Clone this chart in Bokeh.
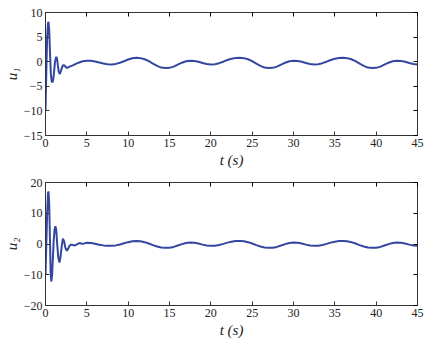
from bokeh.plotting import figure
from bokeh.layouts import column
from bokeh.models import LinearAxis, FixedTicker
from bokeh.embed import file_html
from bokeh.resources import INLINE

# ---- data ----
t1 = [0, 0.1, 0.2, 0.3, 0.36, 0.45, 0.55, 0.65, 0.75, 0.85, 0.95, 1.05, 1.15, 1.3, 1.4, 1.5,
      1.6, 1.73, 1.85, 2.0, 2.15, 2.3, 2.45, 2.6, 2.8, 3.0, 3.3, 3.6, 4.0, 4.5, 5.0,
      5.5, 6, 6.5, 7, 7.5, 8, 8.5, 9, 9.5, 10, 10.5, 11, 11.5, 12, 12.5, 13, 13.5, 14, 14.5,
      15, 15.5, 16, 16.5, 17, 17.5, 18, 18.5, 19, 19.5, 20, 20.5, 21, 21.5, 22, 22.5, 23, 23.5,
      24, 24.5, 25, 25.5, 26, 26.5, 27, 27.5, 28, 28.5, 29, 29.5, 30, 30.5, 31, 31.5, 32, 32.5,
      33, 33.5, 34, 34.5, 35, 35.5, 36, 36.5, 37, 37.5, 38, 38.5, 39, 39.5, 40, 40.5, 41, 41.5,
      42, 42.5, 43, 43.5, 44, 44.5, 45]
u1 = [-10, -2, 5, 7.8, 8.1, 6.5, 1.5, -2.5, -4.0, -4.2, -3.5, -1.8, 0.0, 1.0, 0.6, -0.8,
      -2.0, -2.5, -2.0, -1.1, -0.7, -0.75, -1.1, -1.25, -1.1, -0.95, -0.75, -0.5, -0.2, 0.1, 0.2,
      0.18, 0.05, -0.15, -0.35, -0.5, -0.55, -0.45, -0.2, 0.1, 0.45, 0.7, 0.8, 0.72, 0.5, 0.1, -0.4, -0.85, -1.2, -1.3,
      -1.25, -1.0, -0.6, -0.2, 0.1, 0.2, 0.15, 0.0, -0.25, -0.45, -0.55, -0.5, -0.3, 0.0, 0.35, 0.6, 0.75, 0.8,
      0.72, 0.5, 0.1, -0.4, -0.85, -1.2, -1.3, -1.25, -1.0, -0.6, -0.2, 0.1, 0.2, 0.15, 0.0, -0.25, -0.45, -0.55,
      -0.5, -0.3, 0.0, 0.35, 0.6, 0.75, 0.8, 0.72, 0.5, 0.1, -0.4, -0.85, -1.2, -1.3, -1.25, -1.0, -0.6, -0.2,
      0.1, 0.2, 0.15, 0.0, -0.25, -0.45, -0.55]

t2 = [0, 0.1, 0.2, 0.3, 0.36, 0.45, 0.55, 0.62, 0.7, 0.8, 0.9, 1.0, 1.1, 1.2, 1.3, 1.4,
      1.55, 1.69, 1.8, 1.95, 2.1, 2.25, 2.4, 2.58, 2.75, 2.9, 3.1, 3.3, 3.5, 3.8, 4.1, 4.4, 4.7, 5.0,
      5.5, 6, 6.5, 7, 7.5, 8, 8.5, 9, 9.5, 10, 10.5, 11, 11.5, 12, 12.5, 13, 13.5, 14, 14.5,
      15, 15.5, 16, 16.5, 17, 17.5, 18, 18.5, 19, 19.5, 20, 20.5, 21, 21.5, 22, 22.5, 23, 23.5,
      24, 24.5, 25, 25.5, 26, 26.5, 27, 27.5, 28, 28.5, 29, 29.5, 30, 30.5, 31, 31.5, 32, 32.5,
      33, 33.5, 34, 34.5, 35, 35.5, 36, 36.5, 37, 37.5, 38, 38.5, 39, 39.5, 40, 40.5, 41, 41.5,
      42, 42.5, 43, 43.5, 44, 44.5, 45]
u2 = [-10, 0, 10, 16.5, 17.1, 13, 0, -9, -12.2, -10, -4, 1.5, 4.8, 5.8, 4.5, 0.5,
      -4.5, -6.0, -4.5, -1.0, 1.7, 1.0, -1.2, -2.2, -1.5, -0.6, -0.2, -0.3, -0.5, -0.1, 0.3, 0.1, 0.2, 0.4,
      0.3, 0.05, -0.25, -0.45, -0.6, -0.6, -0.45, -0.15, 0.25, 0.6, 0.9, 1.0, 0.9, 0.6, 0.15, -0.35, -0.8, -1.15, -1.25,
      -1.2, -0.95, -0.5, -0.05, 0.3, 0.45, 0.4, 0.15, -0.2, -0.5, -0.6, -0.55, -0.3, 0.05, 0.45, 0.75, 0.95, 1.0,
      0.9, 0.6, 0.15, -0.35, -0.8, -1.15, -1.25, -1.2, -0.95, -0.5, -0.05, 0.3, 0.45, 0.4, 0.15, -0.2, -0.5, -0.6,
      -0.55, -0.3, 0.05, 0.45, 0.75, 0.95, 1.0, 0.9, 0.6, 0.15, -0.35, -0.8, -1.15, -1.25, -1.2, -0.95, -0.5, -0.05,
      0.3, 0.45, 0.4, 0.15, -0.2, -0.5, -0.55]

x_ticks = [0, 5, 10, 15, 20, 25, 30, 35, 40, 45]
y1_ticks = [-15, -10, -5, 0, 5, 10]
y2_ticks = [-20, -10, 0, 10, 20]

FONT = "Liberation Serif"
LINE = "#3347a0"
FW, FH = 372, 123


def make(t, u, yr, yticks, ylab, top_b, bot_b):
    p = figure(frame_width=FW, frame_height=FH,
               x_range=(0, 45), y_range=yr, output_backend="svg",
               toolbar_location=None, min_border_left=44, min_border_right=12,
               min_border_top=top_b, min_border_bottom=bot_b)
    p.line(t, u, line_color=LINE, line_width=2)
    p.grid.visible = False
    p.outline_line_color = "#333333"
    p.outline_line_width = 1
    p.xaxis.ticker = FixedTicker(ticks=x_ticks)
    p.yaxis.ticker = FixedTicker(ticks=yticks)
    for ax in (p.xaxis[0], p.yaxis[0]):
        ax.major_tick_in = 4
        ax.major_tick_out = 0
        ax.minor_tick_line_color = None
        ax.axis_line_color = "#333333"
        ax.major_tick_line_color = "#333333"
        ax.major_label_text_font = FONT
        ax.major_label_text_font_size = "12px"
        ax.major_label_text_color = "#222222"
        ax.major_label_standoff = 3
        ax.axis_label_text_font = FONT
        ax.axis_label_text_font_size = "15px"
        ax.axis_label_text_font_style = "italic"
        ax.axis_label_text_color = "#222222"
    p.yaxis[0].major_label_overrides = {v: str(v).replace("-", "\u2212") for v in yticks}
    p.yaxis[0].axis_label = ylab
    p.yaxis[0].axis_label_standoff = 1
    p.xaxis[0].axis_label = "t (s)"
    p.xaxis[0].axis_label_standoff = 2
    ax_top = LinearAxis(ticker=FixedTicker(ticks=x_ticks), major_tick_in=4, major_tick_out=0,
                        minor_tick_line_color=None, axis_line_color=None, major_label_standoff=0,
                        major_label_overrides={v: "" for v in x_ticks})
    ax_right = LinearAxis(ticker=FixedTicker(ticks=yticks), major_tick_in=4, major_tick_out=0,
                          minor_tick_line_color=None, axis_line_color=None, major_label_standoff=0,
                          major_label_overrides={v: "" for v in yticks})
    p.add_layout(ax_top, "above")
    p.add_layout(ax_right, "right")
    return p


p1 = make(t1, u1, (-15, 10), y1_ticks, "u\u2081", 12, 35)
p2 = make(t2, u2, (-20, 20), y2_ticks, "u\u2082", 12, 27)
layout = column(p1, p2, spacing=0)

open("out.html", "w").write(file_html(layout, INLINE))
